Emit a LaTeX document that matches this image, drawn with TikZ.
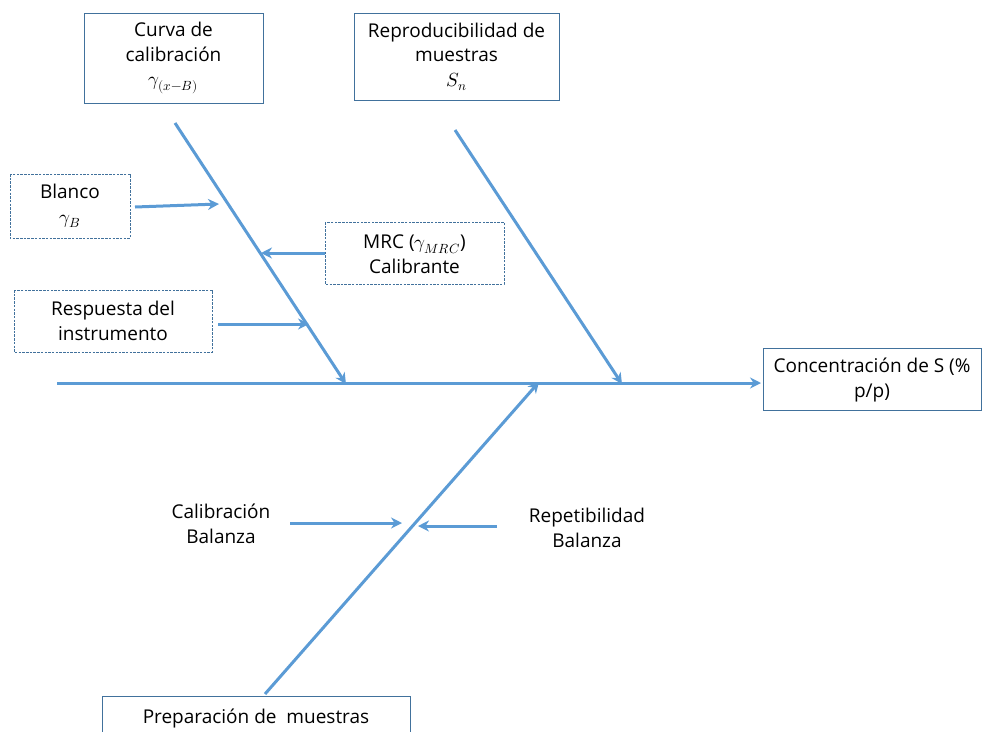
\documentclass[tikz,border=0pt]{standalone}
\usepackage{fontspec}
\usepackage{unicode-math}
\setmainfont{Open Sans}
\setmathfont{Latin Modern Math}
\usetikzlibrary{arrows.meta}
\definecolor{bone}{RGB}{91,155,213}
\definecolor{frame}{RGB}{65,113,156}
\tikzset{
  bone/.style={draw=bone, line width=3pt, -{Stealth[length=11pt,width=11pt]}},
  solidbox/.style={draw=frame, line width=1pt, fill=white},
  dashbox/.style={draw=frame, line width=1pt, dash pattern=on 2.5pt off 1.2pt},
  label/.style={align=center, font=\fontsize{19}{24.5}\selectfont, inner sep=0pt}
}
\begin{document}
\begin{tikzpicture}[x=1pt,y=-1pt]
\useasboundingbox (0,0) rectangle (982,731);

% cause boxes
\draw[solidbox] (84,13) rectangle (263,103);
\node[label] (curva) at (173.5,58) {Curva de\\calibración\\$\gamma_{(x-B)}$};

\draw[solidbox] (354,13) rectangle (559,100);
\node[label] (repro) at (456.5,57) {Reproducibilidad de\\muestras\\$S_n$};

\draw[dashbox] (10,174) rectangle (130,238);
\node[label] (blanco) at (70,206) {Blanco\\$\gamma_B$};

\draw[dashbox] (325,222) rectangle (504,284);
\node[label] (mrc) at (414.5,254) {MRC ($\gamma_{MRC}$)\\Calibrante};

\draw[dashbox] (14,290) rectangle (212,352);
\node[label] (resp) at (113,321) {Respuesta del\\instrumento};

\draw[solidbox] (763,348) rectangle (981,410);
\node[label] (conc) at (872,380) {Concentración de S (\%\\p/p)};

\draw[solidbox] (102,696) rectangle (410,745);
\node[label] (prep) at (256,718) {Preparación de\ \ muestras};

\node[label] (calbal) at (221,524) {Calibración\\Balanza};
\node[label] (repbal) at (587,528) {Repetibilidad\\Balanza};

% bone coordinates
\coordinate (spineA) at (57,383);
\coordinate (spineB) at (761,383);
\coordinate (d1A) at (175,123);
\coordinate (d1B) at (346,384);
\coordinate (d2A) at (455,130);
\coordinate (d2B) at (622,384);
\coordinate (d3A) at (265,694);
\coordinate (d3B) at (539,382);
\coordinate (blA) at (135,207);
\coordinate (blB) at (219,204);
\coordinate (mrA) at (325,253);
\coordinate (mrB) at (261,253);
\coordinate (reA) at (218,324);
\coordinate (reB) at (309,324);
\coordinate (cbA) at (290,523);
\coordinate (cbB) at (402,523);
\coordinate (rbA) at (497,526);
\coordinate (rbB) at (418,526);

% spine and branches
\draw[bone] (spineA) -- (spineB);
\draw[bone] (d1A) -- (d1B);
\draw[bone] (d2A) -- (d2B);
\draw[bone] (d3A) -- (d3B);
\draw[bone] (blA) -- (blB);
\draw[bone] (mrA) -- (mrB);
\draw[bone] (reA) -- (reB);
\draw[bone] (cbA) -- (cbB);
\draw[bone] (rbA) -- (rbB);
\end{tikzpicture}
\end{document}
